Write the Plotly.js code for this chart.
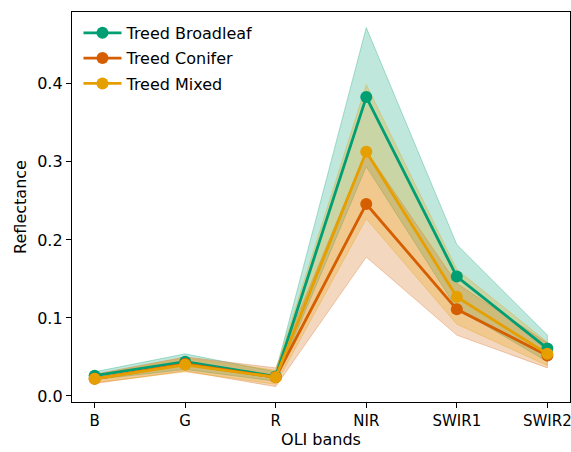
<!DOCTYPE html>
<html><head><meta charset="utf-8">
<script src="https://cdn.plot.ly/plotly-3.0.1.min.js"></script>
<style>html,body{margin:0;padding:0;background:#fff}#chart{width:571px;height:452px}</style>
</head><body><div id="chart"></div>
<script>
const bands = ["B", "G", "R", "NIR", "SWIR1", "SWIR2"];
const seriesNames = ["Treed Broadleaf", "Treed Conifer", "Treed Mixed"];
const broadleafMean = [0.026, 0.044, 0.025, 0.383, 0.153, 0.061];
const broadleafStd  = [0.005, 0.010, 0.006, 0.089, 0.041, 0.017];
const coniferMean   = [0.022, 0.041, 0.024, 0.246, 0.111, 0.052];
const coniferStd    = [0.006, 0.009, 0.012, 0.068, 0.033, 0.016];
const mixedMean     = [0.022, 0.040, 0.024, 0.313, 0.127, 0.054];
const mixedStd      = [0.005, 0.009, 0.009, 0.086, 0.035, 0.015];
const colors = ["#009E73", "#D55E00", "#E69F00"];
const fillColors = ["rgba(0,158,115,0.25)", "rgba(213,94,0,0.25)", "rgba(230,159,0,0.25)"];
const edgeColors = ["rgba(0,158,115,0.3)", "rgba(213,94,0,0.3)", "rgba(230,159,0,0.3)"];

const means = [broadleafMean, coniferMean, mixedMean];
const stds = [broadleafStd, coniferStd, mixedStd];

const traces = [];
means.forEach((m, i) => {
  const upper = m.map((v, j) => v + stds[i][j]);
  const lower = m.map((v, j) => v - stds[i][j]);
  traces.push({
    x: bands.concat(bands.slice().reverse()),
    y: upper.concat(lower.slice().reverse()),
    type: "scatter", mode: "lines", fill: "toself",
    fillcolor: fillColors[i],
    line: {color: edgeColors[i], width: 1},
    showlegend: false, hoverinfo: "skip"
  });
});
means.forEach((m, i) => {
  traces.push({
    x: bands, y: m, name: seriesNames[i], legendgroup: "g" + i,
    type: "scatter", mode: "lines+markers",
    line: {color: colors[i], width: 2.8},
    marker: {color: colors[i], size: 12}
  });
});

const font = {family: "DejaVu Sans", size: 16, color: "#000"};
const layout = {
  width: 571, height: 452,
  margin: {l: 72, r: 1, t: 12, b: 50},
  paper_bgcolor: "#fff", plot_bgcolor: "#fff",
  font: font,
  showlegend: true,
  legend: {x: 0.013, y: 0.99, xanchor: "left", yanchor: "top", bgcolor: "rgba(255,255,255,0)", font: font,
           itemwidth: 38, traceorder: "grouped", tracegroupgap: 1.5},
  xaxis: {
    type: "category", range: [-0.25, 5.25],
    title: {text: "OLI bands", font: font, standoff: 4},
    tickfont: {family: "DejaVu Sans", size: 15, color: "#000"},
    showline: true, mirror: true, linecolor: "#000", linewidth: 1.2,
    ticks: "outside", ticklen: 5, tickcolor: "#000", showgrid: false, zeroline: false
  },
  yaxis: {
    range: [-0.0077, 0.492],
    tickvals: [0, 0.1, 0.2, 0.3, 0.4], tickformat: ".1f",
    title: {text: "Reflectance", font: font, standoff: 6},
    showline: true, mirror: true, linecolor: "#000", linewidth: 1.2,
    ticks: "outside", ticklen: 5, tickcolor: "#000", showgrid: false, zeroline: false
  }
};
Plotly.newPlot("chart", traces, layout, {displayModeBar: false, staticPlot: true});
</script></body></html>
